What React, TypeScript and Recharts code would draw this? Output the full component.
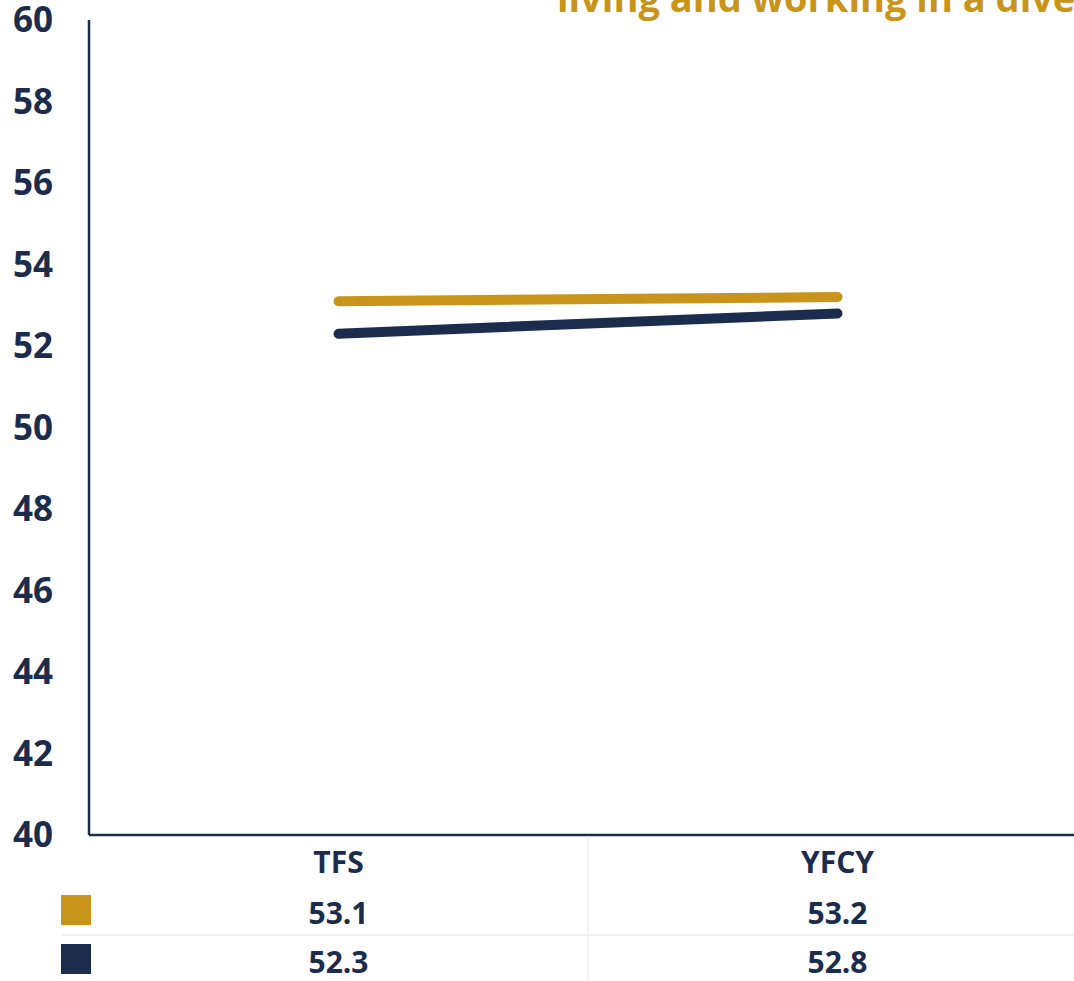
import { CartesianGrid, Line, LineChart, XAxis, YAxis } from "recharts";

const categories = ["TFS", "YFCY"];
const goldValues = [53.1, 53.2];
const navyValues = [52.3, 52.8];
const yTicks = [40, 42, 44, 46, 48, 50, 52, 54, 56, 58, 60];
const titleText = "living and working in a diverse society";

const GOLD = "#c8941a";
const NAVY = "#1b2c4c";
const FONT = "'Open Sans', sans-serif";

const CHART_W = 1087;
const CHART_H = 981;
const Y_W = 89;
const X_H = 146;
const BAND = (CHART_W - Y_W) / categories.length;

const data = categories.map((name, i) => ({ name, gold: goldValues[i], navy: navyValues[i] }));
const rows = [
  { color: GOLD, values: goldValues, dy: 77 },
  { color: NAVY, values: navyValues, dy: 126 },
];

function TableTick(props: any) {
  const { x, y, payload } = props;
  const i = payload.index;
  return (
    <g>
      {i === 0 && (
        <>
          <line x1={x + BAND / 2} x2={x + BAND / 2} y1={y + 1} y2={CHART_H} stroke="#eeeeee" strokeWidth={1.5} />
          <line x1={62} x2={CHART_W} y1={y + 100} y2={y + 100} stroke="#eeeeee" strokeWidth={1.5} />
          {rows.map((r) => (
            <rect key={r.color} x={61} y={y + r.dy - 17} width={30} height={30} fill={r.color} />
          ))}
        </>
      )}
      <text x={x} y={y + 26} textAnchor="middle" dominantBaseline="central" fill={NAVY} fontFamily={FONT} fontWeight={700} fontSize={30}>
        {payload.value}
      </text>
      {rows.map((r) => (
        <text key={r.color} x={x} y={y + r.dy} textAnchor="middle" dominantBaseline="central" fill={NAVY} fontFamily={FONT} fontWeight={700} fontSize={30}>
          {r.values[i].toFixed(1)}
        </text>
      ))}
    </g>
  );
}

export default function App() {
  return (
    <div style={{ position: "fixed", left: 0, top: 0, width: 1074, height: 981, overflow: "hidden", background: "#fff" }}>
      <LineChart width={CHART_W} height={CHART_H} data={data} margin={{ top: 20, right: 0, left: 0, bottom: 0 }}>
        <CartesianGrid horizontal={false} vertical={false} />
        <XAxis
          dataKey="name"
          scale="band"
          height={X_H}
          tickSize={0}
          tickMargin={0}
          axisLine={{ stroke: NAVY, strokeWidth: 2.5 }}
          tick={<TableTick />}
          interval={0}
        />
        <YAxis
          domain={[40, 60]}
          ticks={yTicks}
          width={Y_W}
          tickSize={0}
          tickMargin={36}
          axisLine={{ stroke: NAVY, strokeWidth: 2.5 }}
          tick={{ fill: NAVY, fontFamily: FONT, fontWeight: 700, fontSize: 35 }}
        />
        <Line dataKey="gold" stroke={GOLD} strokeWidth={10} strokeLinecap="round" dot={false} isAnimationActive={false} />
        <Line dataKey="navy" stroke={NAVY} strokeWidth={10} strokeLinecap="round" dot={false} isAnimationActive={false} />
      </LineChart>
      <svg width={1074} height={40} style={{ position: "absolute", left: 0, top: 0 }}>
        <text x={557} y={12} fill={GOLD} fontFamily={FONT} fontWeight={700} fontSize={38}>
          {titleText}
        </text>
      </svg>
    </div>
  );
}
